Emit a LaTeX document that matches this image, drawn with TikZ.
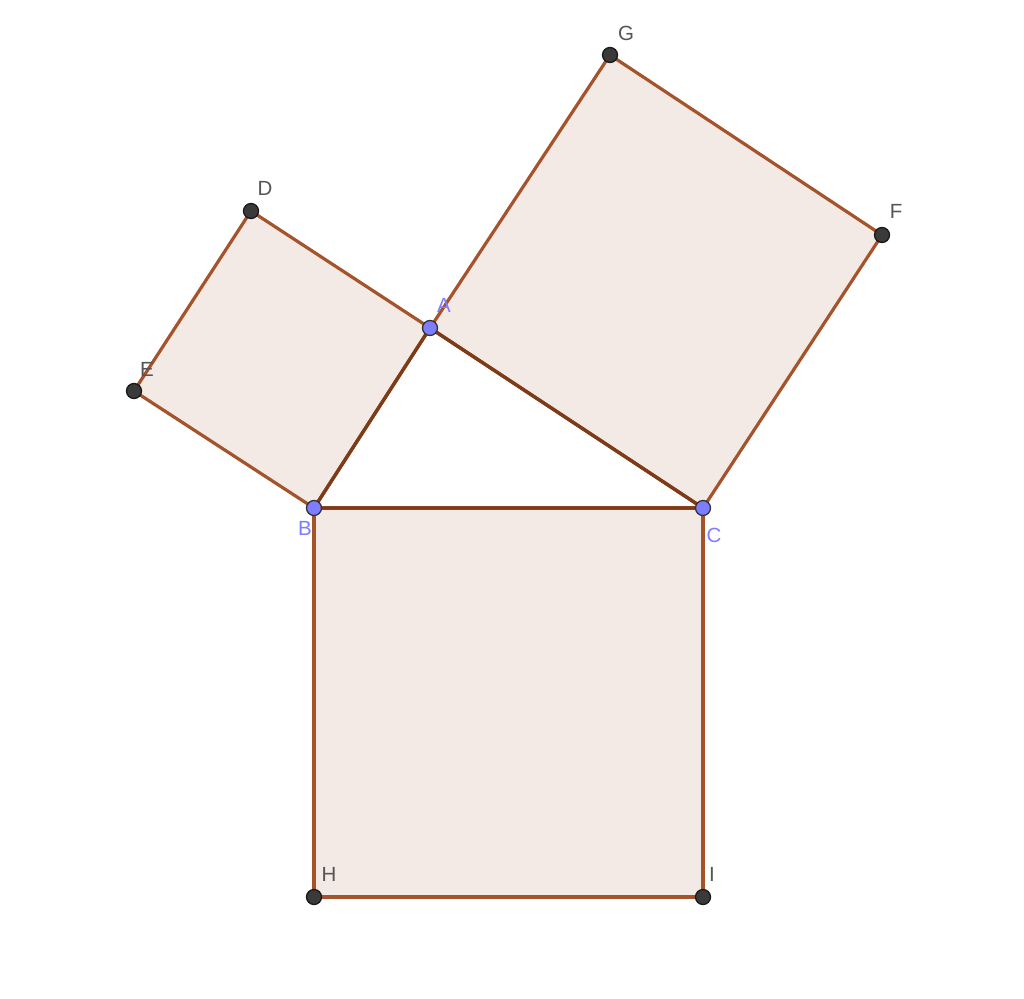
\documentclass[tikz,border=0pt]{standalone}
\usepackage{fontspec}
\setmainfont{Liberation Sans}
\definecolor{edge}{HTML}{A5532A}
\definecolor{tri}{HTML}{7E3B17}
\definecolor{fillc}{HTML}{F4EAE5}
\definecolor{bluept}{HTML}{7D7DFF}
\definecolor{darkpt}{HTML}{3A3A3A}
\definecolor{lab}{HTML}{555555}
\tikzset{
  sq/.style={draw=edge, fill=fillc, line width=3.2pt, line join=round},
  trie/.style={draw=tri, line width=3.4pt, line cap=round},
  bpt/.style={circle, fill=bluept, draw=black!80, line width=1.3pt, minimum size=15pt, inner sep=0pt},
  dpt/.style={circle, fill=darkpt, draw=black!90, line width=1.3pt, minimum size=15pt, inner sep=0pt},
  blab/.style={text=bluept, font=\fontsize{20.5}{22}\selectfont, inner sep=0pt},
  dlab/.style={text=lab, font=\fontsize{20.5}{22}\selectfont, inner sep=0pt}
}
\begin{document}
\begin{tikzpicture}[x=1pt,y=-1pt]
\useasboundingbox (0,0) rectangle (1024,998);
\coordinate (A) at (430,328);
\coordinate (B) at (314,508);
\coordinate (C) at (703,508);
\coordinate (D) at (251,211);
\coordinate (E) at (134,391);
\coordinate (F) at (882,235);
\coordinate (G) at (610,55);
\coordinate (H) at (314,897);
\coordinate (I) at (703,897);
\path[sq] (A) -- (D) -- (E) -- (B) -- cycle;
\path[sq] (C) -- (F) -- (G) -- (A) -- cycle;
\path[sq] (B) -- (H) -- (I) -- (C) -- cycle;
\draw[trie] (A) -- (B) -- (C) -- cycle;
\node[dpt] (nD) at (D) {};
\node[dpt] (nE) at (E) {};
\node[dpt] (nF) at (F) {};
\node[dpt] (nG) at (G) {};
\node[dpt] (nH) at (H) {};
\node[dpt] (nI) at (I) {};
\node[bpt] (nA) at (A) {};
\node[bpt] (nB) at (B) {};
\node[bpt] (nC) at (C) {};
\node[blab] (lA) at (444,305) {A};
\node[blab] (lB) at (305,528) {B};
\node[blab] (lC) at (714,535) {C};
\node[dlab] (lD) at (265,188) {D};
\node[dlab] (lE) at (147,369) {E};
\node[dlab] (lF) at (896,211) {F};
\node[dlab] (lG) at (626,33) {G};
\node[dlab] (lH) at (329,874) {H};
\node[dlab] (lI) at (712,874) {I};
\end{tikzpicture}
\end{document}
